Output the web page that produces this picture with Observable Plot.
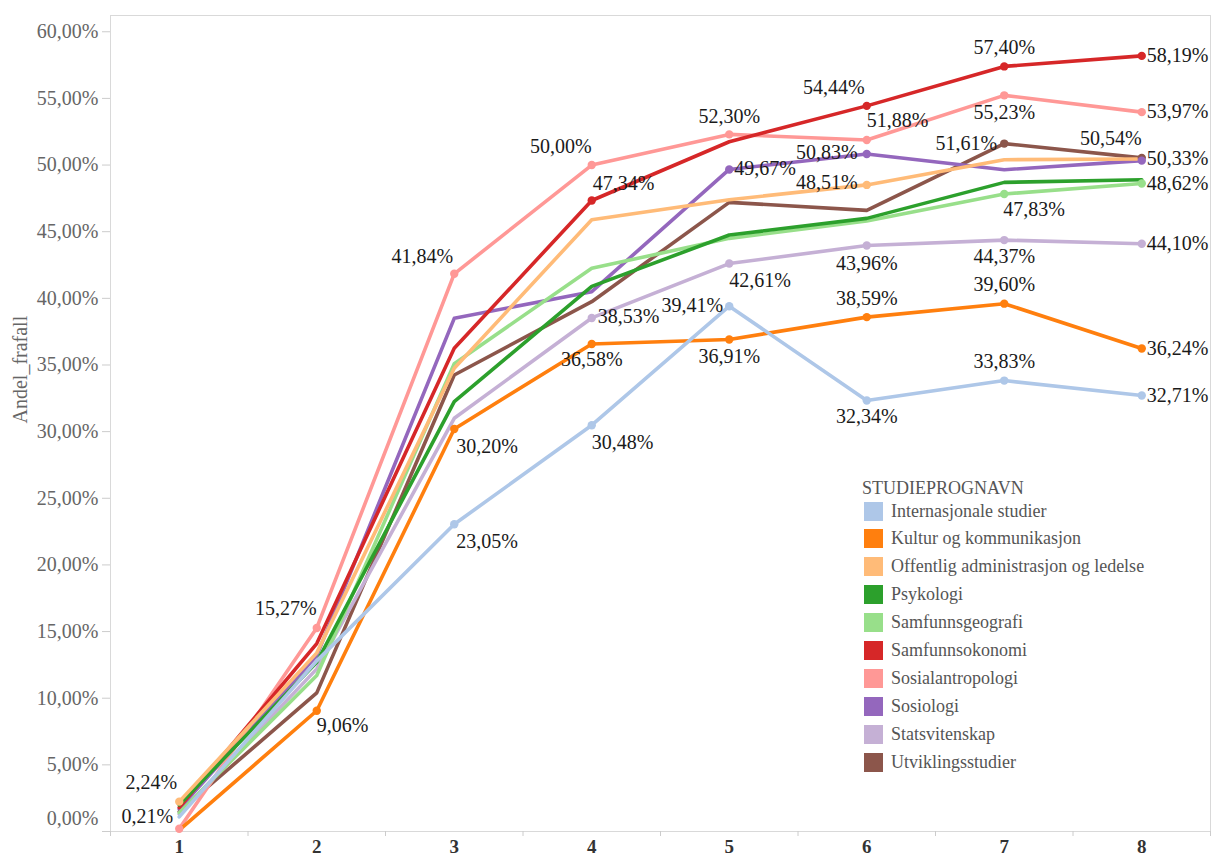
<!DOCTYPE html>
<html>
<head>
<meta charset="utf-8">
<script src="https://cdn.jsdelivr.net/npm/d3@7"></script>
<script src="https://cdn.jsdelivr.net/npm/@observablehq/plot@0.6"></script>
<style>
  body { margin: 0; background: #fff; }
  #wrap { position: relative; width: 1211px; height: 857px; }
  #wrap svg, #wrap svg text { font-family: "Liberation Serif", "Times New Roman", serif !important; }
  #legend { position: absolute; left: 0; top: 0; font-family: "Liberation Serif", "Times New Roman", serif; color: #555; }
  .lg-title { position: absolute; left: 862px; top: 477px; font-size: 18px; line-height: 22px; white-space: nowrap; }
  .lg-row { position: absolute; left: 864px; height: 28px; display: flex; align-items: center; white-space: nowrap; font-size: 18px; }
  .lg-sw { width: 19px; height: 19px; margin-right: 8px; }
</style>
</head>
<body>
<div id="wrap"></div>
<script>
// ---- data ----
const steps = [1, 2, 3, 4, 5, 6, 7, 8];
const programs = [
  "Internasjonale studier",
  "Kultur og kommunikasjon",
  "Offentlig administrasjon og ledelse",
  "Psykologi",
  "Samfunnsgeografi",
  "Samfunnsokonomi",
  "Sosialantropologi",
  "Sosiologi",
  "Statsvitenskap",
  "Utviklingsstudier"
];
const programColors = ["#aec7e8", "#ff7f0e", "#ffbb78", "#2ca02c", "#98df8a", "#d62728", "#ff9896", "#9467bd", "#c5b0d5", "#8c564b"];

const internasjonale   = [1.10, 12.80, 23.05, 30.48, 39.41, 32.34, 33.83, 32.71];
const kultur           = [0.10,  9.06, 30.20, 36.58, 36.91, 38.59, 39.60, 36.24];
const offentlig        = [2.24, 13.40, 34.75, 45.90, 47.40, 48.51, 50.40, 50.45];
const psykologi        = [2.00, 12.70, 32.25, 40.90, 44.75, 46.00, 48.70, 48.90];
const samfunnsgeografi = [1.40, 11.70, 35.10, 42.25, 44.50, 45.80, 47.83, 48.62];
const samfunnsokonomi  = [1.80, 14.10, 36.25, 47.34, 51.75, 54.44, 57.40, 58.19];
const sosialantropologi= [0.21, 15.27, 41.84, 50.00, 52.30, 51.88, 55.23, 53.97];
const sosiologi        = [1.70, 13.20, 38.50, 40.50, 49.67, 50.83, 49.65, 50.33];
const statsvitenskap   = [1.30, 12.20, 31.00, 38.53, 42.61, 43.96, 44.37, 44.10];
const utvikling        = [1.50, 10.40, 34.25, 39.75, 47.20, 46.60, 51.61, 50.54];

const seriesValues = [internasjonale, kultur, offentlig, psykologi, samfunnsgeografi,
  samfunnsokonomi, sosialantropologi, sosiologi, statsvitenskap, utvikling];

const yTicks = [0, 5, 10, 15, 20, 25, 30, 35, 40, 45, 50, 55, 60];

// labelled points: [program index, step, anchor, dx, dy]
const labelPlacement = [
  [2, 1, "end", -2, -19], [6, 1, "end", -6, -12],
  [6, 2, "end", 0, -19], [1, 2, "start", 0, 15],
  [6, 3, "end", -1, -17], [1, 3, "start", 2, 18], [0, 3, "start", 2, 17],
  [6, 4, "end", 0, -18], [5, 4, "start", 1, -17], [8, 4, "start", 6, -1], [1, 4, "middle", 0, 16], [0, 4, "start", 0, 17],
  [6, 5, "middle", 0, -18], [7, 5, "start", 5, -1], [8, 5, "start", 0, 17], [0, 5, "end", -6, -1], [1, 5, "middle", 0, 17],
  [5, 6, "end", -2, -18], [6, 6, "start", 0, -19], [7, 6, "end", -9, -1], [2, 6, "end", -9, -2], [8, 6, "middle", 0, 18], [1, 6, "middle", 0, -19], [0, 6, "middle", 0, 16],
  [5, 7, "middle", 0, -19], [6, 7, "middle", 0, 17], [9, 7, "end", -7, 0], [4, 7, "start", -1, 16], [8, 7, "middle", 0, 17], [1, 7, "middle", 0, -19], [0, 7, "middle", 0, -19],
  [5, 8, "start", 5, 0], [6, 8, "start", 5, -1], [9, 8, "end", 0, -19], [7, 8, "start", 5, -2], [4, 8, "start", 5, 0], [8, 8, "start", 5, 0], [1, 8, "start", 5, 0], [0, 8, "start", 5, 0]
];

// ---- build tables ----
const rows = [];
for (let p = programs.length - 1; p >= 0; p--) {
  steps.forEach((s, i) => rows.push({program: programs[p], step: s, value: seriesValues[p][i]}));
}
const labelRows = labelPlacement.map(([p, s, anchor, dx, dy]) => ({
  program: programs[p], step: s, value: seriesValues[p][steps.indexOf(s)], anchor, dx, dy
}));

const fmt = d => d.toFixed(2).replace(".", ",") + "%";
const serif = "Liberation Serif";
const boundaries = steps.map(s => s - 0.5).concat([steps[steps.length - 1] + 0.5]);

const marks = [
  Plot.frame({stroke: "#d9d9d9"}),
  Plot.axisY(yTicks, {tickSize: 8, tickPadding: 4, stroke: "#cccccc", fill: "#666", fontSize: 20, fontFamily: serif,
    tickFormat: d => d === 0 ? "" : fmt(d), label: null}),
  Plot.axisY([0], {tickSize: 8, tickPadding: 4, stroke: "none", fill: "#666", fontSize: 20, fontFamily: serif, dy: -13,
    tickFormat: fmt, label: null}),
  Plot.axisX(boundaries, {tickSize: 5, stroke: "#cccccc", tickFormat: () => "", label: null}),
  Plot.axisX(steps, {tickSize: 0, tickPadding: 8, fill: "#333", fontSize: 19, fontWeight: "bold", fontFamily: serif,
    tickFormat: d => String(d), label: null}),
  Plot.text(["Andel_frafall"], {frameAnchor: "left", rotate: -90, dx: -90, fill: "#666", fontSize: 20, fontFamily: serif}),
  Plot.line(rows, {x: "step", y: "value", z: "program", stroke: "program", strokeWidth: 3.6, strokeLinejoin: "round"}),
  Plot.dot(labelRows, {x: "step", y: "value", fill: "program", r: 4.2})
];
for (const d of labelRows) {
  marks.push(Plot.text([d], {x: "step", y: "value", text: r => fmt(r.value), textAnchor: d.anchor, dx: d.dx, dy: d.dy,
    fill: "#1a1a1a", fontSize: 20, fontFamily: serif}));
}

const chart = Plot.plot({
  width: 1211,
  height: 857,
  marginLeft: 110,
  marginRight: 1,
  marginTop: 15,
  marginBottom: 26,
  style: {fontFamily: '"Liberation Serif", serif', background: "#fff"},
  x: {type: "linear", domain: [0.5, 8.5]},
  y: {domain: [0, 61.22]},
  color: {domain: programs, range: programColors},
  marks
});

const wrap = document.getElementById("wrap");
wrap.appendChild(chart);

// legend (placed inside the plot area, like the original)
const legend = document.createElement("div");
legend.id = "legend";
const title = document.createElement("div");
title.className = "lg-title";
title.textContent = "STUDIEPROGNAVN";
legend.appendChild(title);
programs.forEach((p, i) => {
  const row = document.createElement("div");
  row.className = "lg-row";
  row.style.top = (497 + i * 27.9) + "px";
  const sw = document.createElement("div");
  sw.className = "lg-sw";
  sw.style.background = programColors[i];
  const tx = document.createElement("span");
  tx.textContent = p;
  row.appendChild(sw);
  row.appendChild(tx);
  legend.appendChild(row);
});
wrap.appendChild(legend);
</script>
</body>
</html>
